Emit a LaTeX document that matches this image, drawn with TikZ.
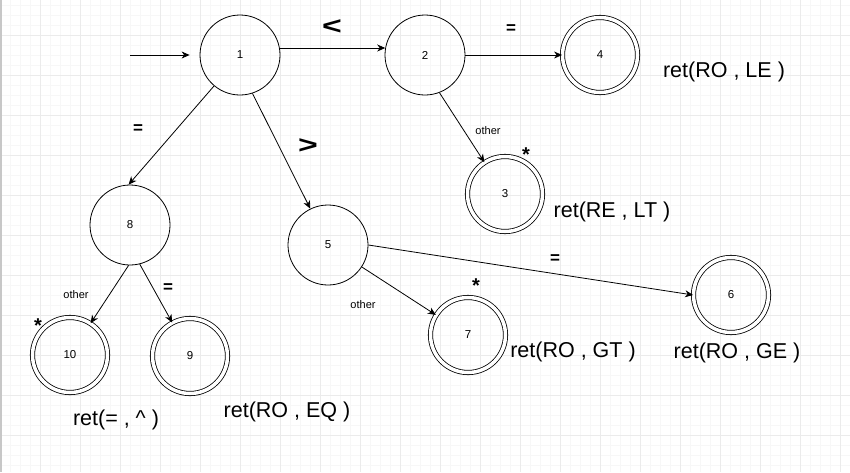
\documentclass[tikz,border=0pt]{standalone}
\usepackage{fontspec}
\setmainfont{Liberation Sans}
\usetikzlibrary{arrows.meta, positioning}

\newcommand{\widesym}[1]{\scalebox{1.3}[0.95]{#1}}

\begin{document}
\begin{tikzpicture}[
    x=1pt, y=-1pt,
    gridminor/.style={draw=black!3, line width=0.6pt},
    gridmajor/.style={draw=black!8, line width=0.8pt},
    state/.style={circle, draw=black, line width=0.8pt, minimum size=80pt, inner sep=0pt, font=\fontsize{11.5}{11.5}\selectfont},
    accept/.style={state, double, double distance=3.5pt, minimum size=75pt},
    edgelabel/.style={inner sep=0pt, font=\fontsize{11}{11}\selectfont},
    symlabel/.style={inner sep=0pt, font=\fontsize{17}{17}\selectfont\bfseries},
    starlabel/.style={inner sep=0pt, font=\fontsize{20}{20}\selectfont\bfseries},
    cmplabel/.style={inner sep=0pt, font=\fontsize{26}{26}\selectfont\bfseries},
    retlabel/.style={inner sep=0pt, font=\fontsize{21.5}{21.5}\selectfont},
    arrow/.style={line width=0.8pt, -{Stealth[length=8pt, width=7pt, inset=2.5pt]}}
]

\useasboundingbox (0,0) rectangle (850,472);
\fill[white] (0,0) rectangle (850,472);

% background grid
\foreach \x in {10,20,...,850} \draw[gridminor] (\x,0) -- (\x,472);
\foreach \y in {5,15,...,472} \draw[gridminor] (0,\y) -- (850,\y);
\foreach \x in {40,80,...,840} \draw[gridmajor] (\x,0) -- (\x,472);
\foreach \y in {35,75,...,472} \draw[gridmajor] (0,\y) -- (850,\y);
\draw[draw=black!22, line width=1.5pt] (0.75,0) -- (0.75,472);

% states
\node (s1) [state] at (240,55) {1};
\node (s2) [state] at (425,55) {2};
\node (s4) [accept] at (600,55) {4};
\node (s3) [accept] at (505,194) {3};
\node (s8) [state] at (130,225) {8};
\node (s5) [state] at (328,245) {5};
\node (s10) [accept] at (70,355) {10};
\node (s9) [accept] at (190,356) {9};
\node (s7) [accept] at (468,335) {7};
\node (s6) [accept] at (731,295) {6};
\coordinate (entry) at (130,55);

% transitions
\draw [arrow, shorten >=10pt] (entry) -- (s1);
\draw [arrow] (s1.10) -- (s2.170);
\draw [arrow] (s2.east) -- (s4.west);
\draw [arrow] (s2.291) -- (s3.123);
\draw [arrow] (s1.230) -- (s8.92);
\draw [arrow] (s1.288) -- (s5.116);
\draw [arrow] (s8.268) -- (s10.57);
\draw [arrow] (s8.284) -- (s9.118);
\draw [arrow] (s5.327) -- (s7.148);
\draw [arrow] (s5.east) -- (s6.west);

% transition labels
\node (lt) [cmplabel] at (332,27) {\widesym{<}};
\node (gt) [cmplabel] at (308,146) {\widesym{>}};
\node (eq24) [symlabel] at (511,29) {=};
\node (eq18) [symlabel] at (138,129) {=};
\node (eq89) [symlabel] at (168,288) {=};
\node (eq56) [symlabel] at (555,259) {=};
\node (oth23) [edgelabel] at (488,131) {other};
\node (oth810) [edgelabel] at (76,295) {other};
\node (oth57) [edgelabel] at (363,305) {other};
\node (star3) [starlabel] at (526,155) {*};
\node (star10) [starlabel] at (38,326) {*};
\node (star7) [starlabel] at (476,286) {*};

% return actions
\node (ret4) [retlabel] at (724,72) {ret(RO , LE )};
\node (ret3) [retlabel] at (612,212) {ret(RE , LT )};
\node (ret10) [retlabel] at (116,420) {ret(= , \^{} )};
\node (ret9) [retlabel] at (287,412) {ret(RO , EQ )};
\node (ret7) [retlabel] at (573,352) {ret(RO , GT )};
\node (ret6) [retlabel] at (737,353) {ret(RO , GE )};

\end{tikzpicture}
\end{document}
